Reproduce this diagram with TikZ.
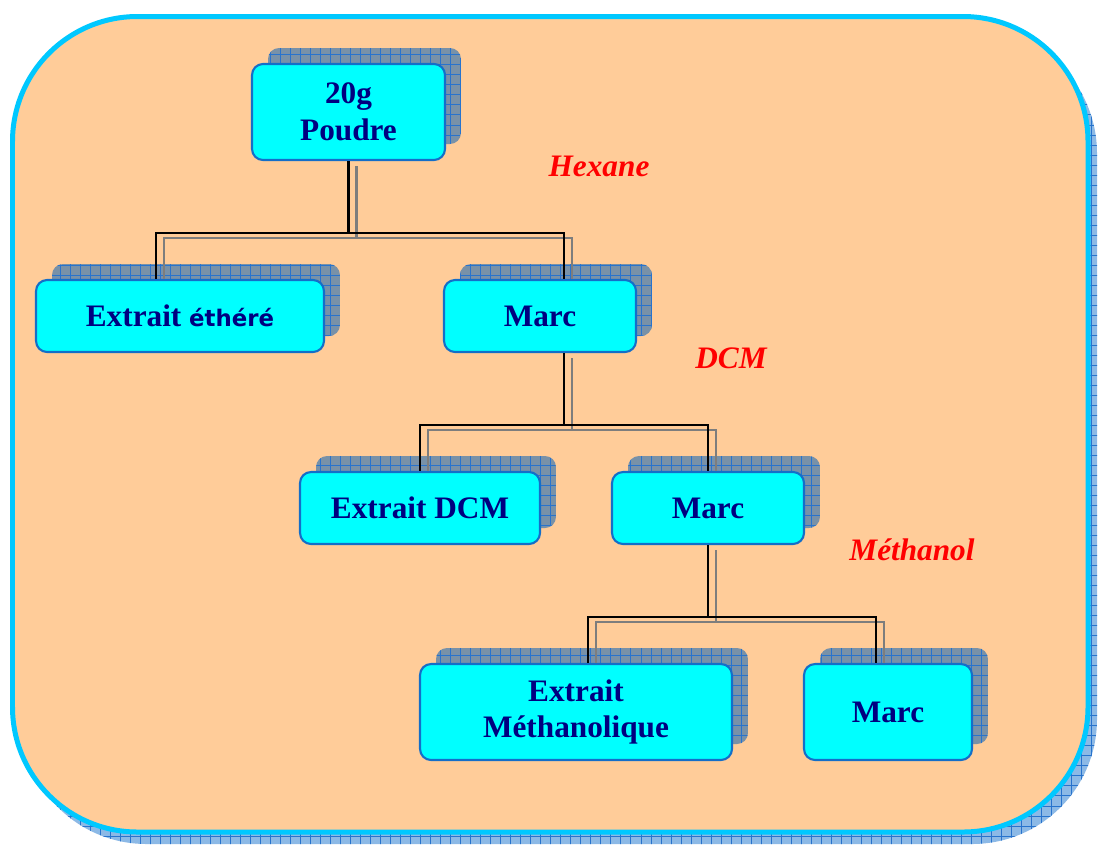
\documentclass[tikz,border=0pt]{standalone}
\usepackage{fontspec}
\setmainfont{Liberation Serif}
\newfontfamily\etherfont{DejaVu Sans}
\usepackage{xcolor}
\usetikzlibrary{shadows, patterns.meta, calc}
\definecolor{peach}{RGB}{255,204,153}
\definecolor{framecyan}{RGB}{0,200,255}
\definecolor{frameshade}{RGB}{140,185,230}
\definecolor{boxfill}{RGB}{0,255,255}
\definecolor{boxedge}{RGB}{20,110,200}
\definecolor{navy}{RGB}{0,0,128}
\definecolor{shadefill}{RGB}{120,145,168}
\definecolor{gridblue}{RGB}{40,115,205}
\definecolor{echogray}{RGB}{125,125,125}
\tikzdeclarepattern{
  name=shadegrid, type=uncolored,
  bottom left={(-.5pt,-.5pt)}, top right={(6.2pt,6.2pt)},
  tile size={(5.7pt,5.7pt)},
  code={\draw[line width=.5pt] (0pt,0pt) -- (5.7pt,0pt) (0pt,0pt) -- (0pt,5.7pt);}
}
\tikzset{
  box/.style={rectangle, rounded corners=0.22cm, draw=boxedge, line width=1.2pt, fill=boxfill,
    text=navy, font=\bfseries\fontsize{17.8}{21}\selectfont, align=center, inner sep=0pt,
    general shadow={fill=shadefill, shadow xshift=0.32cm, shadow yshift=0.32cm},
    general shadow={pattern=shadegrid, pattern color=gridblue, shadow xshift=0.32cm, shadow yshift=0.32cm}},
  solvent/.style={text=red, font=\bfseries\itshape\fontsize{17.8}{21}\selectfont},
  link/.style={black, line width=1.5pt},
  echo/.style={echogray, line width=1.5pt},
}

\begin{document}
\begin{tikzpicture}[x=0.02cm, y=-0.02cm]
\useasboundingbox (0,0) rectangle (1098,846);
\fill[frameshade, rounded corners=2.5cm] (21.5,28.5) rectangle (1097,844);
\fill[pattern=shadegrid, pattern color=gridblue, rounded corners=2.5cm] (21.5,28.5) rectangle (1097,844);
\draw[framecyan, fill=peach, line width=0.1cm, rounded corners=2.5cm] (12.5,16.5) rectangle (1088,832);

\node[box, minimum width=3.86cm, minimum height=1.92cm] (poudre) at (348.5,112) {20g\\Poudre};
\node[box, minimum width=5.76cm, minimum height=1.44cm] (ether) at (180,316) {Extrait {\etherfont\fontsize{13}{15}\selectfont éthéré}};
\node[box, minimum width=3.84cm, minimum height=1.44cm] (marcA) at (540,316) {Marc};
\node[box, minimum width=4.8cm, minimum height=1.44cm] (extdcm) at (420,508) {Extrait DCM};
\node[box, minimum width=3.84cm, minimum height=1.44cm] (marcB) at (708,508) {Marc};
\node[box, minimum width=6.24cm, minimum height=1.92cm] (extmeth) at (576,712) {Extrait\\Méthanolique};
\node[box, minimum width=3.36cm, minimum height=1.92cm] (marcC) at (888,712) {Marc};

\node[solvent] (hexane) at (599,166) {Hexane};
\node[solvent] (dcm) at (731,358) {DCM};
\node[solvent] (methanol) at (912,550) {Méthanol};

\draw[echo] ($(poudre.south)+(8,5)$) -- ++(0,72) -| ($(ether.north)+(-16,0)$);
\draw[echo] ($(poudre.south)+(8,77)$) -| ($(marcA.north)+(32,0)$);
\draw[link] (poudre.south) -- ++(0,72) -| ($(ether.north)+(-24,0)$);
\draw[link] ($(poudre.south)+(0,72)$) -| ($(marcA.north)+(24,0)$);

\draw[echo] ($(marcA.south)+(32,5)$) -- ++(0,72) -| ($(extdcm.north)+(8,0)$);
\draw[echo] ($(marcA.south)+(32,77)$) -| ($(marcB.north)+(8,0)$);
\draw[link] ($(marcA.south)+(24,0)$) -- ++(0,72) -| (extdcm.north);
\draw[link] ($(marcA.south)+(24,72)$) -| (marcB.north);

\draw[echo] ($(marcB.south)+(8,5)$) -- ++(0,72) -| ($(extmeth.north)+(20,0)$);
\draw[echo] ($(marcB.south)+(8,77)$) -| ($(marcC.north)+(-4,0)$);
\draw[link] (marcB.south) -- ++(0,72) -| ($(extmeth.north)+(12,0)$);
\draw[link] ($(marcB.south)+(0,72)$) -| ($(marcC.north)+(-12,0)$);
\end{tikzpicture}
\end{document}
